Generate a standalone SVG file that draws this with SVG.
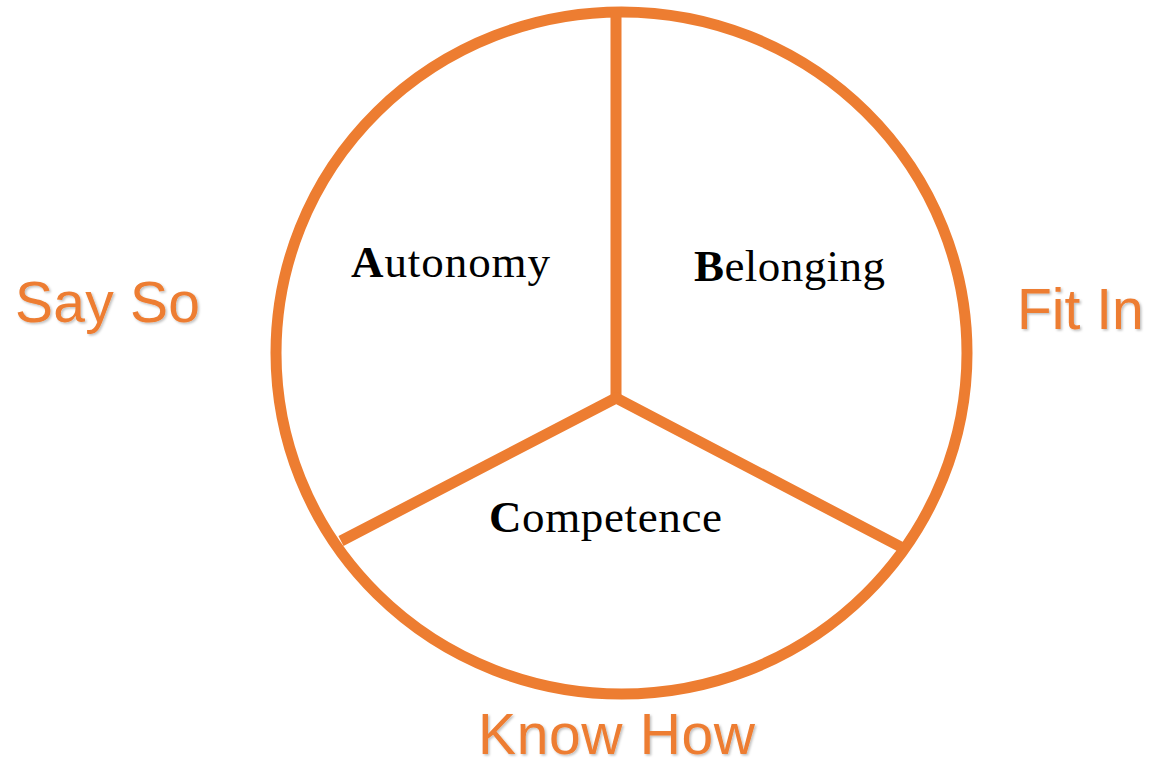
<svg xmlns="http://www.w3.org/2000/svg" width="1152" height="764" viewBox="0 0 1152 764">
  <style>
    .ring { fill: none; stroke: #ED7D31; stroke-width: 11; }
    .spoke { fill: none; stroke: #ED7D31; stroke-width: 11; stroke-linejoin: miter; stroke-linecap: butt; }
    .outer { font-family: "Liberation Sans", Arial, sans-serif; font-size: 57px; fill: #ED7D31; filter: url(#shadow); }
    .inner { font-family: "Liberation Serif", "Times New Roman", serif; font-size: 45px; fill: #000; }
    .inner .b { font-weight: bold; }
  </style>
  <defs>
    <filter id="shadow" x="-10%" y="-20%" width="130%" height="150%">
      <feDropShadow dx="1.5" dy="1.5" stdDeviation="1.2" flood-color="#000" flood-opacity="0.25"/>
    </filter>
  </defs>
  <rect width="1152" height="764" fill="#fff"/>
  <g id="circle">
    <ellipse class="ring" cx="621.5" cy="353" rx="345.5" ry="341"/>
  </g>
  <g id="connectors">
    <line class="spoke" x1="616" y1="12" x2="616" y2="398"/>
    <polyline class="spoke" points="341,541 616,398 901,547"/>
  </g>
  <g id="autonomy">
    <text class="inner" x="351" y="277" textLength="199" lengthAdjust="spacing"><tspan class="b">A</tspan>utonomy</text>
  </g>
  <g id="belonging">
    <text class="inner" x="694" y="281" textLength="191" lengthAdjust="spacing"><tspan class="b">B</tspan>elonging</text>
  </g>
  <g id="competence">
    <text class="inner" x="489" y="532" textLength="233" lengthAdjust="spacing"><tspan class="b">C</tspan>ompetence</text>
  </g>
  <g id="say-so">
    <text class="outer" x="15" y="322" textLength="185" lengthAdjust="spacing">Say So</text>
  </g>
  <g id="fit-in">
    <text class="outer" x="1017" y="329">Fit In</text>
  </g>
  <g id="know-how">
    <text class="outer" x="478" y="754" textLength="277" lengthAdjust="spacing">Know How</text>
  </g>
</svg>
